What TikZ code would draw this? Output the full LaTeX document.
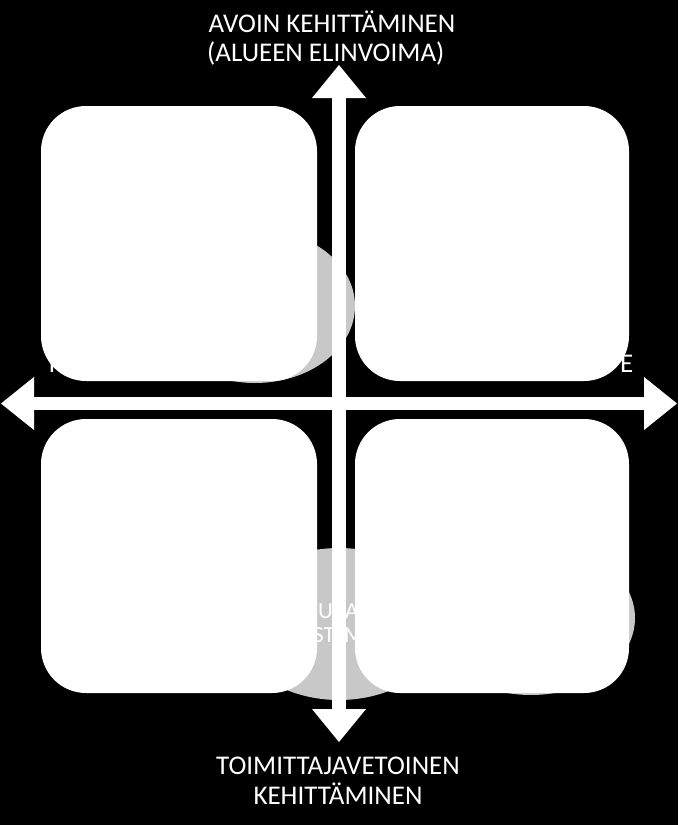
\documentclass[tikz,border=0pt]{standalone}
\usepackage{fontspec}
\setmainfont{Carlito}
\usetikzlibrary{arrows.meta}
\definecolor{blob}{HTML}{C8C8C8}
\tikzset{
  quad/.style={fill=white, draw=none, rounded corners=45pt, inner sep=0pt, outer sep=0pt},
  blobfill/.style={fill=blob},
  axislbl/.style={text=white, font=\fontsize{27}{28}\selectfont, inner sep=0pt},
  frag/.style={text=white, font=\fontsize{23}{24}\selectfont, inner sep=0pt, anchor=base west},
  vaxis/.style={draw=white, line width=14pt, {Triangle[width=54pt,length=33pt,line width=0pt]}-{Triangle[width=54pt,length=33pt,line width=0pt]}},
  haxis/.style={draw=white, line width=13pt, {Triangle[width=53pt,length=33pt,line width=0pt]}-{Triangle[width=53pt,length=33pt,line width=0pt]}}
}
\begin{document}
\begin{tikzpicture}[x=1pt,y=-1pt]
\fill[black] (0,0) rectangle (678,825);
\useasboundingbox (0,0) rectangle (678,825);
% grey blobs
\fill[blobfill] (255,306) ellipse [x radius=100, y radius=77];
\fill[blobfill] (339,624) ellipse [x radius=105, y radius=76];
\fill[blobfill] (531,618) ellipse [x radius=104, y radius=77];
% visible text fragments
\node[frag] (fu) at (318,618) {U};
\node[frag] (fa) at (345,618) {A};
\node[frag] (fst) at (313,642) {ST};
\node[frag] (fm) at (344,642) {M};
\node[axislbl, anchor=base west] (fl) at (48.5,372) {I};
\node[axislbl, anchor=base west] (fr) at (620,372) {E};
% quadrant boxes
\node[quad, minimum width=276pt, minimum height=275pt] (tl) at (179,243.5) {};
\node[quad, minimum width=274pt, minimum height=275pt] (tr) at (492,243.5) {};
\node[quad, minimum width=276pt, minimum height=274pt] (bl) at (179,556) {};
\node[quad, minimum width=274pt, minimum height=274pt] (br) at (492,556) {};
% axes
\coordinate (vtop) at (339,65);
\coordinate (vbot) at (339,742);
\coordinate (hleft) at (1,403.5);
\coordinate (hright) at (677,403.5);
\draw[vaxis] (vtop) -- (vbot);
\draw[haxis] (hleft) -- (hright);
% axis labels
\node[axislbl, anchor=base west] (t1) at (208.5,32.5) {AVOIN KEHITTÄMINEN};
\node[axislbl, anchor=base west] (t2) at (207,61) {(ALUEEN ELINVOIMA)};
\node[axislbl, anchor=base] (b1) at (338,774) {TOIMITTAJAVETOINEN};
\node[axislbl, anchor=base] (b2) at (338,804) {KEHITTÄMINEN};
\end{tikzpicture}
\end{document}
